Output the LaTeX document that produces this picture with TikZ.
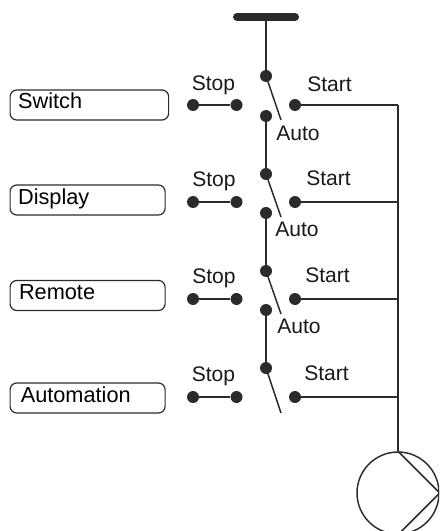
\documentclass[tikz,border=0pt]{standalone}
\usepackage{fontspec}
\usepackage{tikz}
\setmainfont{Liberation Sans}
\definecolor{ink}{HTML}{2B2B2B}

\tikzset{
  wire/.style={draw=ink,line width=1.1pt},
  contact/.style={circle,fill=ink,minimum size=9pt,inner sep=0pt},
  panel/.style={draw=ink,line width=0.9pt,rounded corners=5pt,anchor=west,inner xsep=6pt,inner ysep=0pt,
    minimum height=22.5pt,text height=13pt,text depth=7pt,align=left,text width=104.25pt,
    font=\fontsize{16.3}{18}\selectfont},
  tag/.style={anchor=base west,inner sep=0pt,text=black!90}
}

\begin{document}
\begin{tikzpicture}[x=0.75pt,y=-0.75pt,font=\fontsize{15.8}{18}\selectfont]
\useasboundingbox (0,0) rectangle (439,531);
\clip (0,0) rectangle (439,531);

\coordinate (BL) at (237,17);
\coordinate (BR) at (295,17);
\coordinate (F) at (266,17);

% contacts, row 1
\node[contact] (T1) at (266,76) {};
\node[contact] (L1) at (193,105) {};
\node[contact] (M1) at (236.5,105) {};
\node[contact] (R1) at (295,105) {};
\node[contact] (A1) at (266,116) {};
\coordinate (E1) at (281,120);
\coordinate (J1) at (398,105);

% contacts, row 2
\node[contact] (T2) at (266,174) {};
\node[contact] (L2) at (193,202) {};
\node[contact] (M2) at (236.5,202) {};
\node[contact] (R2) at (295,202) {};
\node[contact] (A2) at (266,213) {};
\coordinate (E2) at (281,217);
\coordinate (J2) at (398,202);

% contacts, row 3
\node[contact] (T3) at (266,271) {};
\node[contact] (L3) at (193,299) {};
\node[contact] (M3) at (236.5,299) {};
\node[contact] (R3) at (295,299) {};
\node[contact] (A3) at (266,310) {};
\coordinate (E3) at (281,314);
\coordinate (J3) at (398,299);

% contacts, row 4
\node[contact] (T4) at (266,368) {};
\node[contact] (L4) at (193,397) {};
\node[contact] (M4) at (236.5,397) {};
\node[contact] (R4) at (295,397) {};
\coordinate (E4) at (281,413);
\coordinate (J4) at (398,397);

\node[circle,wire,minimum size=61.5pt,inner sep=0pt] (P) at (398,493) {};

% sources
\node[panel,text width=106.9pt] (Sw) at (9.5,105) {Switch};
\node[panel] (Di) at (9.5,200) {Display};
\node[panel] (Re) at (9.5,295.5) {\hspace{0.7pt}Remote};
\node[panel] (Au) at (9.5,398) {\hspace{2pt}Automation};

% labels
\node[tag] (S1) at (191.5,91) {Stop};
\node[tag] (G1) at (307,92) {Start};
\node[tag] (O1) at (276,141) {Auto};
\node[tag] (S2) at (192,186) {Stop};
\node[tag] (G2) at (306,185) {Start};
\node[tag] (O2) at (275,236) {Auto};
\node[tag] (S3) at (192,283) {Stop};
\node[tag] (G3) at (305,282) {Start};
\node[tag] (O3) at (277,333) {Auto};
\node[tag] (S4) at (191.5,381) {Stop};
\node[tag] (G4) at (304,380) {Start};

\draw[draw=ink,line width=6pt,line cap=round] (BL) -- (BR);
\draw[wire] (F) -- (T1);
\draw[wire] (T1.center) -- (E1);
\draw[wire] (A1) -- (T2);
\draw[wire] (T2.center) -- (E2);
\draw[wire] (A2) -- (T3);
\draw[wire] (T3.center) -- (E3);
\draw[wire] (A3) -- (T4);
\draw[wire] (T4.center) -- (E4);

\draw[wire] (L1) -- (M1);
\draw[wire] (L2) -- (M2);
\draw[wire] (L3) -- (M3);
\draw[wire] (L4) -- (M4);

\draw[wire] (R1) -- (J1);
\draw[wire] (R2) -- (J2);
\draw[wire] (R3) -- (J3);
\draw[wire] (R4) -- (J4);

% bus down to the pump
\draw[wire] (J1) -- (P.north);
\draw[wire] (P.north) -- (P.east) -- (P.south);

\end{tikzpicture}
\end{document}
